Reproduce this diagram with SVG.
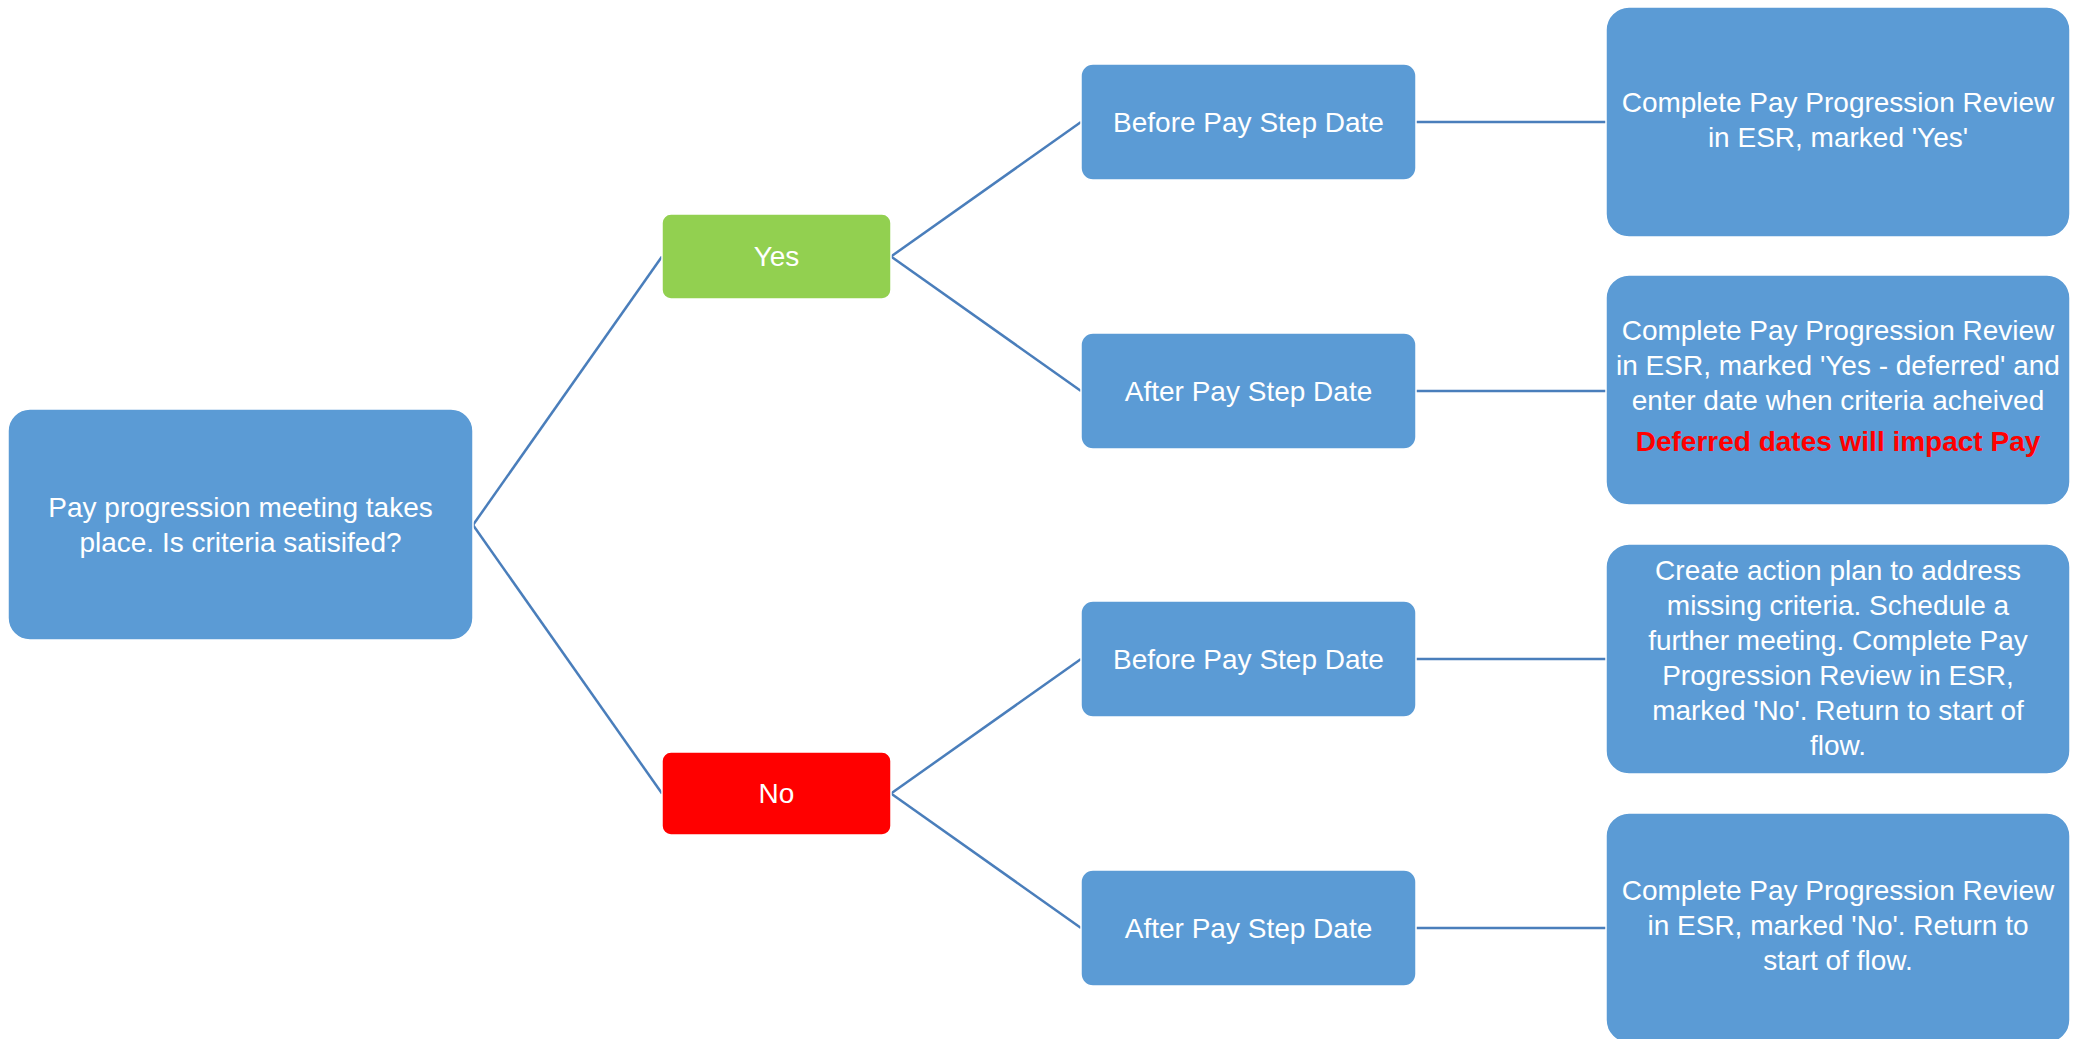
<svg xmlns="http://www.w3.org/2000/svg" width="2084" height="1039" viewBox="0 0 2084 1039">
<style>
.box{fill:#5B9BD5;stroke:#FFFFFF;stroke-width:1.5}
.yes{fill:#92D050;stroke:#FFFFFF;stroke-width:1.5}
.no{fill:#FF0000;stroke:#FFFFFF;stroke-width:1.5}
.t{font-family:"Liberation Sans",Arial,sans-serif;font-size:28px;fill:#FFFFFF;text-anchor:middle}
.warn{font-family:"Liberation Sans",Arial,sans-serif;font-size:28px;font-weight:bold;fill:#FF0000;text-anchor:middle}
.c{stroke:#4A7EBB;stroke-width:2.5;fill:none}
</style>
<rect width="2084" height="1039" fill="#FFFFFF"/>
<g id="connectors">
<line class="c" x1="473" y1="525" x2="662" y2="256.5"/>
<line class="c" x1="473" y1="525" x2="662" y2="793.5"/>
<line class="c" x1="891" y1="256.5" x2="1081" y2="122"/>
<line class="c" x1="891" y1="256.5" x2="1081" y2="391"/>
<line class="c" x1="891" y1="793.5" x2="1081" y2="659"/>
<line class="c" x1="891" y1="793.5" x2="1081" y2="928"/>
<line class="c" x1="1416" y1="122" x2="1606" y2="122"/>
<line class="c" x1="1416" y1="391" x2="1606" y2="391"/>
<line class="c" x1="1416" y1="659" x2="1606" y2="659"/>
<line class="c" x1="1416" y1="928" x2="1606" y2="928"/>
</g>
<g id="root">
<rect class="box" x="8" y="409" width="465" height="231" rx="22"/>
<text class="t" x="240.5" y="517">Pay progression meeting takes</text>
<text class="t" x="240.5" y="552">place. Is criteria satisifed?</text>
</g>
<g id="yes">
<rect class="yes" x="662" y="214" width="229" height="85" rx="9"/>
<text class="t" x="776.5" y="266">Yes</text>
</g>
<g id="no">
<rect class="no" x="662" y="752" width="229" height="83" rx="9"/>
<text class="t" x="776.5" y="803">No</text>
</g>
<g id="yes-before">
<rect class="box" x="1081" y="64" width="335" height="116" rx="12"/>
<text class="t" x="1248.5" y="132">Before Pay Step Date</text>
</g>
<g id="yes-after">
<rect class="box" x="1081" y="333" width="335" height="116" rx="12"/>
<text class="t" x="1248.5" y="401">After Pay Step Date</text>
</g>
<g id="no-before">
<rect class="box" x="1081" y="601" width="335" height="116" rx="12"/>
<text class="t" x="1248.5" y="669">Before Pay Step Date</text>
</g>
<g id="no-after">
<rect class="box" x="1081" y="870" width="335" height="116" rx="12"/>
<text class="t" x="1248.5" y="938">After Pay Step Date</text>
</g>
<g id="outcome-yes-before">
<rect class="box" x="1606" y="7" width="464" height="230" rx="23"/>
<text class="t" x="1838" y="112">Complete Pay Progression Review</text>
<text class="t" x="1838" y="147">in ESR, marked 'Yes'</text>
</g>
<g id="outcome-yes-after">
<rect class="box" x="1606" y="275" width="464" height="230" rx="23"/>
<text class="t" x="1838" y="340">Complete Pay Progression Review</text>
<text class="t" x="1838" y="375">in ESR, marked 'Yes - deferred' and</text>
<text class="t" x="1838" y="410">enter date when criteria acheived</text>
<text class="warn" x="1838" y="451">Deferred dates will impact Pay</text>
</g>
<g id="outcome-no-before">
<rect class="box" x="1606" y="544" width="464" height="230" rx="23"/>
<text class="t" x="1838" y="580">Create action plan to address</text>
<text class="t" x="1838" y="615">missing criteria. Schedule a</text>
<text class="t" x="1838" y="650">further meeting. Complete Pay</text>
<text class="t" x="1838" y="685">Progression Review in ESR,</text>
<text class="t" x="1838" y="720">marked 'No'. Return to start of</text>
<text class="t" x="1838" y="755">flow.</text>
</g>
<g id="outcome-no-after">
<rect class="box" x="1606" y="813" width="464" height="230" rx="23"/>
<text class="t" x="1838" y="900">Complete Pay Progression Review</text>
<text class="t" x="1838" y="935">in ESR, marked 'No'. Return to</text>
<text class="t" x="1838" y="970">start of flow.</text>
</g>
</svg>
